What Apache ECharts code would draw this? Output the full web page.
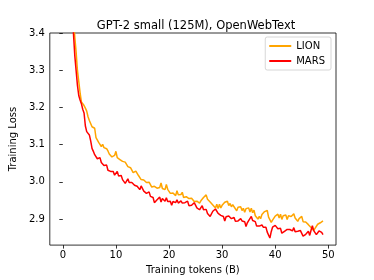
<!DOCTYPE html>
<html><head><meta charset="utf-8">
<script src="https://cdn.jsdelivr.net/npm/echarts@6/dist/echarts.min.js"></script>
<style>html,body{margin:0;padding:0;background:#fff}#c{width:374px;height:280px}</style>
</head><body><div id="c"></div>
<script>
const tokens = [1.5,1.75,
 2,2.25,2.5,2.75, 3,3.25,3.5,3.75, 4,4.25,4.5,4.75, 5,5.25,5.5,5.75, 6,6.25,6.5,6.75,
 7,7.25,7.5,7.75, 8,8.25,8.5,8.75, 9,9.25,9.5,9.75, 10,10.25,10.5,10.75, 11,11.25,11.5,11.75,
 12,12.25,12.5,12.75, 13,13.25,13.5,13.75, 14,14.25,14.5,14.75, 15,15.25,15.5,15.75, 16,16.25,16.5,16.75,
 17,17.25,17.5,17.75, 18,18.25,18.5,18.75, 19,19.25,19.5,19.75, 20,20.25,20.5,20.75, 21,21.25,21.5,21.75,
 22,22.25,22.5,22.75, 23,23.25,23.5,23.75, 24,24.25,24.5,24.75, 25,25.25,25.5,25.75, 26,26.25,26.5,26.75,
 27,27.25,27.5,27.75, 28,28.25,28.5,28.75, 29,29.25,29.5,29.75, 30,30.25,30.5,30.75, 31,31.25,31.5,31.75,
 32,32.25,32.5,32.75, 33,33.25,33.5,33.75, 34,34.25,34.5,34.75, 35,35.25,35.5,35.75, 36,36.25,36.5,36.75,
 37,37.25,37.5,37.75, 38,38.25,38.5,38.75, 39,39.25,39.5,39.75, 40,40.25,40.5,40.75, 41,41.25,41.5,41.75,
 42,42.25,42.5,42.75, 43,43.25,43.5,43.75, 44,44.25,44.5,44.75, 45,45.25,45.5,45.75, 46,46.25,46.5,46.75,
 47,47.25,47.5,47.75, 48,48.25,48.5,48.75, 49];
const lion = [3.60,3.52,
 3.45,3.39,3.35,3.30, 3.27,3.24,3.215,3.21, 3.205,3.198,3.19,3.175, 3.165,3.16,3.148,3.152, 3.144,3.119,3.120,3.106,
 3.107,3.095,3.101,3.092, 3.096,3.089,3.083,3.075, 3.079,3.067,3.069,3.071, 3.082,3.065,3.067,3.060, 3.058,3.055,3.053,3.053,
 3.056,3.041,3.041,3.038, 3.037,3.025,3.028,3.029, 3.030,3.017,3.020,3.006, 3.006,3.005,3.009,2.998, 3.003,2.999,2.995,2.986,
 2.991,2.988,2.992,2.983, 2.986,2.985,2.997,2.982, 2.981,2.979,2.993,2.980, 2.981,2.969,2.970,2.970, 2.969,2.963,2.976,2.965,
 2.968,2.966,2.972,2.958, 2.961,2.960,2.964,2.955, 2.960,2.956,2.957,2.947, 2.951,2.948,2.953,2.943, 2.949,2.947,2.958,2.956,
 2.965,2.953,2.956,2.946, 2.950,2.938,2.940,2.930, 2.940,2.928,2.940,2.930, 2.937,2.934,2.945,2.940, 2.948,2.936,2.942,2.933,
 2.939,2.933,2.930,2.922, 2.932,2.928,2.933,2.923, 2.929,2.918,2.928,2.925, 2.930,2.919,2.929,2.917, 2.924,2.909,2.910,2.900,
 2.907,2.901,2.912,2.912, 2.920,2.917,2.923,2.905, 2.903,2.891,2.897,2.897, 2.908,2.907,2.913,2.903, 2.913,2.899,2.909,2.909,
 2.911,2.899,2.909,2.904, 2.907,2.904,2.914,2.903, 2.906,2.894,2.901,2.902, 2.907,2.893,2.898,2.892, 2.893,2.885,2.889,2.877,
 2.879,2.869,2.875,2.874, 2.886,2.882,2.890,2.889, 2.895];
const mars = [3.60,3.50,
 3.40,3.34,3.30,3.26, 3.232,3.22,3.21,3.195, 3.185,3.15,3.135,3.13, 3.126,3.11,3.09,3.082, 3.073,3.076,3.062,3.065,
 3.065,3.052,3.053,3.044, 3.042,3.045,3.031,3.033, 3.028,3.024,3.028,3.018, 3.014,3.028,3.016,3.018, 3.017,3.006,3.006,2.996,
 2.995,3.008,2.998,2.999, 2.998,2.993,2.991,2.990, 2.988,2.990,2.979,2.989, 2.986,2.975,2.979,2.969, 2.969,2.973,2.961,2.963,
 2.958,2.944,2.948,2.952, 2.955,2.959,2.946,2.955, 2.952,2.948,2.957,2.947, 2.945,2.948,2.937,2.947, 2.950,2.944,2.952,2.943,
 2.938,2.949,2.943,2.946, 2.944,2.940,2.948,2.936, 2.933,2.937,2.934,2.944, 2.944,2.930,2.932,2.925, 2.925,2.936,2.925,2.927,
 2.926,2.915,2.916,2.907, 2.910,2.921,2.916,2.927, 2.930,2.915,2.916,2.910, 2.906,2.907,2.895,2.906, 2.911,2.908,2.911,2.901,
 2.900,2.904,2.894,2.896, 2.895,2.891,2.901,2.895, 2.891,2.893,2.880,2.890, 2.896,2.895,2.907,2.896, 2.892,2.893,2.881,2.882,
 2.881,2.876,2.884,2.878, 2.876,2.878,2.865,2.860, 2.849,2.866,2.878,2.878, 2.883,2.886,2.874,2.877, 2.875,2.862,2.867,2.867,
 2.862,2.872,2.868,2.872, 2.872,2.868,2.877,2.866, 2.863,2.867,2.864,2.869, 2.865,2.854,2.858,2.859, 2.862,2.867,2.856,2.870,
 2.882,2.869,2.869,2.858, 2.857,2.868,2.863,2.864, 2.858];
const xTicks = [0,10,20,30,40,50];
const yTicks = [2.9,3.0,3.1,3.2,3.3,3.4];

const font = 'DejaVu Sans';
const chart = echarts.init(document.getElementById('c'), null, {renderer:'canvas'});
chart.setOption({
  animation:false,
  title:{text:'GPT-2 small (125M), OpenWebText',left:191,top:15,textAlign:'center',
    textStyle:{fontFamily:font,fontSize:11.5,fontWeight:'normal',color:'#000'}},
  grid:{left:46,right:38,top:33,bottom:32,show:true,borderColor:'#000',borderWidth:0.8,backgroundColor:'#fff'},
  legend:{right:43,top:37,orient:'vertical',itemWidth:22,itemHeight:2,itemGap:5,
    padding:[4,6,4,4],borderColor:'#ccc',borderWidth:0.8,borderRadius:2,
    textStyle:{fontFamily:font,fontSize:10,color:'#000'},
    data:[{name:'LION',icon:'rect'},{name:'MARS',icon:'rect'}]},
  xAxis:{type:'value',min:-2.45,max:51.45,
    name:'Training tokens (B)',nameLocation:'middle',nameGap:19,
    nameTextStyle:{fontFamily:font,fontSize:10,color:'#000'},
    axisLine:{show:false},splitLine:{show:false},
    axisTick:{show:true,length:3.5,lineStyle:{color:'#000',width:0.8},customValues:xTicks},
    axisLabel:{fontFamily:font,fontSize:10,color:'#000',margin:5,customValues:xTicks}},
  yAxis:{type:'value',min:2.83,max:3.4,
    name:'Training Loss',nameLocation:'middle',nameGap:21,
    nameTextStyle:{fontFamily:font,fontSize:10,color:'#000'},
    axisLine:{show:false},splitLine:{show:false},
    axisTick:{show:true,length:3.5,lineStyle:{color:'#000',width:0.8},customValues:yTicks},
    axisLabel:{fontFamily:font,fontSize:10,color:'#000',margin:5,customValues:yTicks,
      formatter:v=>v.toFixed(1)}},
  series:[
    {name:'LION',type:'line',showSymbol:false,symbol:'none',clip:true,color:'#FFA500',
      lineStyle:{width:1.5,color:'#FFA500'},data:tokens.map((t,i)=>[t,lion[i]])},
    {name:'MARS',type:'line',showSymbol:false,symbol:'none',clip:true,color:'#FF0000',
      lineStyle:{width:1.5,color:'#FF0000'},data:tokens.map((t,i)=>[t,mars[i]])}
  ]
});
</script></body></html>
